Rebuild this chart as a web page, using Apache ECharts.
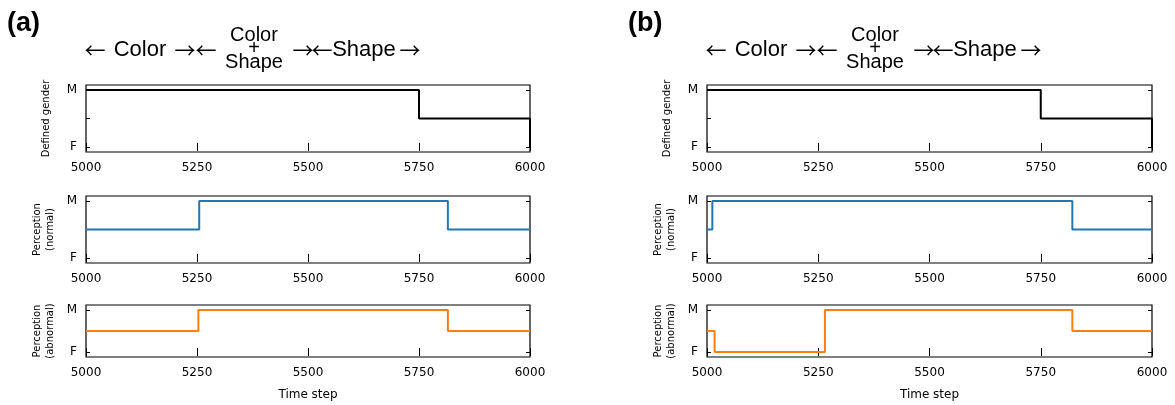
<!DOCTYPE html>
<html>
<head>
<meta charset="utf-8">
<script src="https://cdn.jsdelivr.net/npm/echarts@6/dist/echarts.min.js"></script>
<style>
  html, body { margin: 0; background: #fff; }
  #chart { width: 1175px; height: 405px; }
</style>
</head>
<body>
<div id="chart"></div>
<script>
// x axis
const xMin = 5000, xMax = 6000, xStep = 250;
// y levels: 0 = F, 0.5 = (undecided), 1 = M
const levelTicks = [0, 0.5, 1];
const levelLabels = { 0: 'F', 1: 'M' };
const rowNames = ['Defined gender', 'Perception\n(normal)', 'Perception\n(abnormal)'];
const rowColors = ['#000000', '#1f77b4', '#ff7f0e'];
const panelTitles = ['(a)', '(b)'];

// step series: [time step, level], level held until next change
const genderA   = [[5000, 1], [5750, 0.5], [6000, 0]];
const normalA   = [[5000, 0.5], [5255, 1], [5815, 0.5], [6000, 0.5]];
const abnormalA = [[5000, 0.5], [5253, 1], [5815, 0.5], [6000, 0.5]];
const genderB   = [[5000, 1], [5750, 0.5], [6000, 0]];
const normalB   = [[5000, 0.5], [5012, 1], [5821, 0.5], [6000, 0.5]];
const abnormalB = [[5000, 0.5], [5017, 0], [5265, 1], [5821, 0.5], [6000, 0.5]];

const panelData = [[genderA, normalA, abnormalA], [genderB, normalB, abnormalB]];

// layout
const cols = [{ left: 86, width: 444 }, { left: 707, width: 445 }];
const rows = [
  { top: 85, height: 67, pad: 0.09 },
  { top: 196, height: 67, pad: 0.09 },
  { top: 305, height: 52, pad: 0.12 }
];

const chart = echarts.init(document.getElementById('chart'));

const grid = [], xAxis = [], yAxis = [], series = [], graphic = [];
const tickFont = 'DejaVu Sans';

cols.forEach((c, ci) => {
  rows.forEach((r, ri) => {
    const gi = grid.length;
    grid.push({
      left: c.left, width: c.width, top: r.top, height: r.height,
      show: true, borderColor: '#000', borderWidth: 1.2, backgroundColor: 'transparent'
    });
    const xBase = {
      gridIndex: gi, type: 'value', min: xMin, max: xMax, interval: xStep,
      axisLine: { show: false },
      axisTick: { show: true, inside: true, length: 4, lineStyle: { color: '#000', width: 1 } },
      splitLine: { show: false }
    };
    xAxis.push(Object.assign({}, xBase, {
      position: 'bottom',
      axisLabel: { show: true, color: '#000', fontSize: 12, fontFamily: tickFont, margin: 10, formatter: v => String(v) },
      name: ri === 2 ? 'Time step' : '',
      nameLocation: 'middle', nameGap: 32,
      nameTextStyle: { color: '#000', fontSize: 12, fontFamily: tickFont }
    }));
    xAxis.push(Object.assign({}, xBase, { position: 'top', axisLabel: { show: false } }));

    const yBase = {
      gridIndex: gi, type: 'value', min: -r.pad, max: 1 + r.pad,
      axisLine: { show: false },
      axisTick: { show: true, inside: true, length: 4, customValues: levelTicks, lineStyle: { color: '#000', width: 1 } },
      splitLine: { show: false }
    };
    yAxis.push(Object.assign({}, yBase, {
      position: 'left',
      axisLabel: {
        show: true, customValues: [0, 1], color: '#000', fontSize: 12, fontFamily: tickFont, margin: 9,
        formatter: v => levelLabels[v] || ''
      },
      name: rowNames[ri], nameLocation: 'middle', nameRotate: 90,
      nameGap: ri === 0 ? 33 : 29,
      nameTextStyle: { color: '#000', fontSize: 10, fontFamily: tickFont, lineHeight: 13 }
    }));
    yAxis.push(Object.assign({}, yBase, { position: 'right', axisLabel: { show: false } }));

    series.push({
      type: 'line', xAxisIndex: gi * 2, yAxisIndex: gi * 2,
      data: panelData[ci][ri], step: 'end', symbol: 'none', clip: false,
      lineStyle: { color: rowColors[ri], width: 2 }, itemStyle: { color: rowColors[ri] }
    });
  });

  // panel label and phase annotation
  const dx = c.left - 86;
  const big = { fontFamily: 'Liberation Sans', fontSize: 22, fill: '#000' };
  const arrow = { fontFamily: 'Noto Sans CJK JP', fontSize: 21, fill: '#000' };
  const small = { fontFamily: 'Liberation Sans', fontSize: 20, fill: '#000' };
  const txt = (x, y, text, st) => ({
    type: 'text', x: x + dx, y: y,
    style: Object.assign({ text: text, align: 'center', verticalAlign: 'middle' }, st)
  });
  graphic.push({
    type: 'text', x: 7 + dx, y: 24,
    style: { text: panelTitles[ci], fontFamily: 'Liberation Sans', fontWeight: 'bold', fontSize: 27, fill: '#000', align: 'left', verticalAlign: 'middle' }
  });
  graphic.push(txt(95, 50, '←', arrow));
  graphic.push(txt(140, 50, 'Color', big));
  graphic.push(txt(185, 50, '→', arrow));
  graphic.push(txt(206, 50, '←', arrow));
  graphic.push(txt(254, 35, 'Color', small));
  graphic.push(txt(254, 48, '+', small));
  graphic.push(txt(254, 62, 'Shape', small));
  graphic.push(txt(303, 50, '→', arrow));
  graphic.push(txt(322, 50, '←', arrow));
  graphic.push(txt(364, 50, 'Shape', big));
  graphic.push(txt(410, 50, '→', arrow));
});

chart.setOption({
  animation: false,
  backgroundColor: '#fff',
  grid: grid,
  xAxis: xAxis,
  yAxis: yAxis,
  series: series,
  graphic: graphic
});
</script>
</body>
</html>
